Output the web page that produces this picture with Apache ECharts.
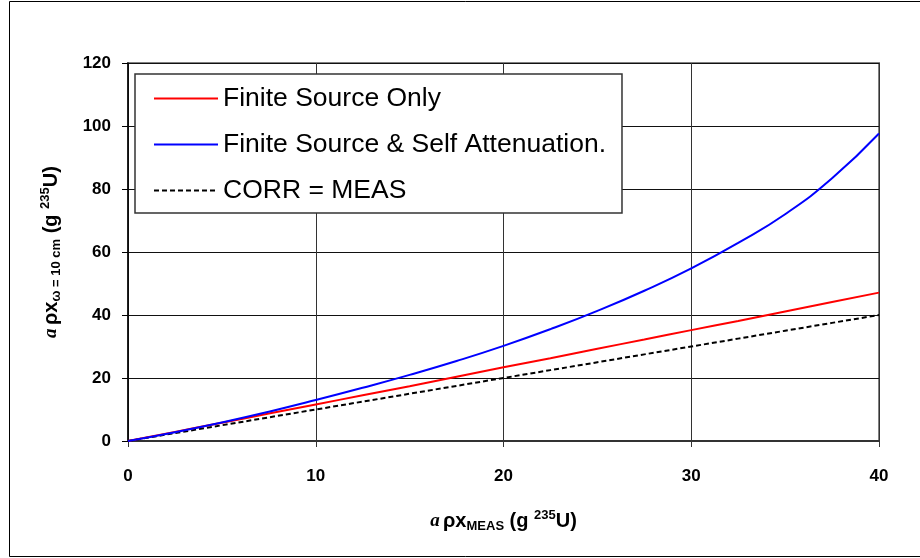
<!DOCTYPE html>
<html><head><meta charset="utf-8">
<script src="https://cdn.jsdelivr.net/npm/echarts@6/dist/echarts.min.js"></script>
<style>html,body{margin:0;padding:0;background:#fff}#c{width:920px;height:558px}</style>
</head><body><div id="c"></div>
<script>
var xValues = [0, 2.5, 5, 7.5, 10, 12.5, 15, 17.5, 20, 22.5, 25, 27.5, 30, 32.5, 35, 37.5, 40];
var finiteSourceOnly = [0, 2.9, 5.8, 8.7, 11.6, 14.5, 17.4, 20.4, 23.4, 26.3, 29.3, 32.2, 35.2, 38.1, 41.1, 44.1, 47.1];
var finiteSourceSelfAtt = [0, 2.8, 5.9, 9.3, 13.0, 16.9, 21.0, 25.4, 30.2, 35.5, 41.3, 47.7, 54.8, 62.9, 72.0, 83.4, 97.6];
var corrEqMeas = [0, 2.5, 5, 7.5, 10, 12.5, 15, 17.5, 20, 22.5, 25, 27.5, 30, 32.5, 35, 37.5, 40];
var seriesNames = ['Finite Source Only', 'Finite Source & Self Attenuation.', 'CORR = MEAS'];
var xTicks = [0, 10, 20, 30, 40];
var yTicks = [0, 20, 40, 60, 80, 100, 120];

function pairs(ys) { return xValues.map(function (x, i) { return [x, ys[i]]; }); }

var chart = echarts.init(document.getElementById('c'));
var F = 'Liberation Sans, Arial, sans-serif';
var nameRich = {
  a: { fontFamily: 'Liberation Serif, Times New Roman, serif', fontStyle: 'italic', fontWeight: 'bold', fontSize: 19, color: '#000' },
  m: { fontFamily: F, fontWeight: 'bold', fontSize: 20, color: '#000' },
  sub: { fontFamily: F, fontWeight: 'bold', fontSize: 13, color: '#000', padding: [9, 0, 0, 0] },
  sup: { fontFamily: F, fontWeight: 'bold', fontSize: 13, color: '#000', padding: [0, 0, 12, 0] }
};
chart.setOption({
  animation: false,
  backgroundColor: '#fff',
  graphic: [{
    type: 'rect', shape: { x: 9.5, y: 1.5, width: 930, height: 555 },
    style: { fill: 'none', stroke: '#000', lineWidth: 1 }, silent: true, z: -10
  }],
  grid: { left: 128, right: 41, top: 63, bottom: 117, show: true, borderColor: '#808080', borderWidth: 2, backgroundColor: 'transparent' },
  legend: {
    orient: 'vertical', left: 135, top: 74,
    itemWidth: 64, itemHeight: 14, itemGap: 19,
    padding: [11, 16, 9, 18],
    borderColor: '#333', borderWidth: 1.5, backgroundColor: '#fff',
    itemStyle: { color: 'transparent', borderColor: 'transparent', borderWidth: 0, opacity: 0 },
    textStyle: { fontFamily: F, fontSize: 26.5, color: '#000' },
    data: seriesNames
  },
  xAxis: {
    type: 'value', min: xTicks[0], max: xTicks[xTicks.length - 1], interval: 10,
    name: '{a|a} {m|ρx}{sub|MEAS}{m| (g }{sup|235}{m|U)}',
    nameLocation: 'middle', nameGap: 68,
    nameTextStyle: { rich: nameRich },
    axisLine: { lineStyle: { color: '#333', width: 2 } },
    axisTick: { show: true, length: 6, lineStyle: { color: '#333', width: 1 } },
    axisLabel: { margin: 27, fontFamily: F, fontWeight: 'bold', fontSize: 17, color: '#000' },
    splitLine: { show: true, lineStyle: { color: '#333', width: 1 } }
  },
  yAxis: {
    type: 'value', min: yTicks[0], max: yTicks[yTicks.length - 1], interval: 20,
    name: '{a|a} {m|ρx}{sub|ω = 10 cm}{m| (g }{sup|235}{m|U)}',
    nameLocation: 'middle', nameGap: 64, nameRotate: 90,
    nameTextStyle: { rich: nameRich },
    axisLine: { show: true, lineStyle: { color: '#000', width: 1.5 } },
    axisTick: { show: true, length: 6, lineStyle: { color: '#000', width: 1 } },
    axisLabel: { margin: 17, fontFamily: F, fontWeight: 'bold', fontSize: 17, color: '#000' },
    splitLine: { show: true, lineStyle: { color: '#111', width: 1 } }
  },
  series: [
    { name: seriesNames[0], type: 'line', data: pairs(finiteSourceOnly), smooth: 0.5, symbol: 'none', showSymbol: false,
      lineStyle: { color: '#ff0000', width: 2 }, itemStyle: { color: '#ff0000' }, z: 4 },
    { name: seriesNames[1], type: 'line', data: pairs(finiteSourceSelfAtt), smooth: 0.5, symbol: 'none', showSymbol: false,
      lineStyle: { color: '#0000ff', width: 2 }, itemStyle: { color: '#0000ff' }, z: 4 },
    { name: seriesNames[2], type: 'line', data: pairs(corrEqMeas), symbol: 'none', showSymbol: false,
      lineStyle: { color: '#000', width: 2, type: [5, 3] }, itemStyle: { color: '#000' }, z: 3 }
  ]
});
</script></body></html>
